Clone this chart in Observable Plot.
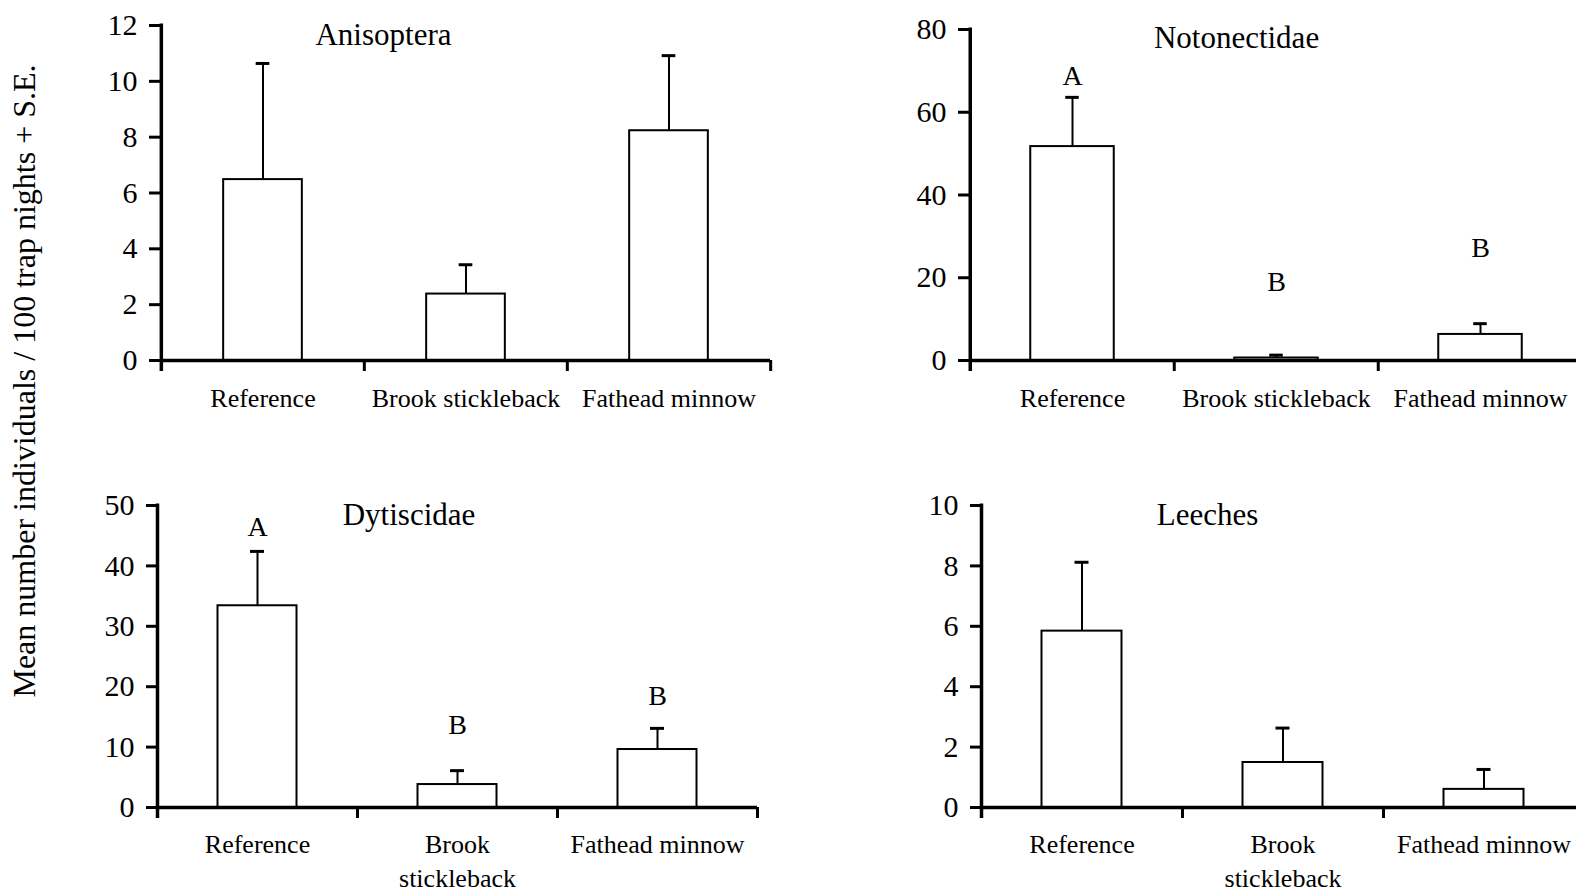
<!DOCTYPE html>
<html>
<head>
<meta charset="utf-8">
<script src="https://cdn.jsdelivr.net/npm/d3@7"></script>
<script src="https://cdn.jsdelivr.net/npm/@observablehq/plot@0.6"></script>
<style>
  html, body { margin: 0; padding: 0; background: #fff; overflow: hidden; }
  #fig { position: relative; width: 1576px; height: 890px; overflow: hidden;
         font-family: "Liberation Serif", "Times New Roman", serif; color: #000; }
  .panel { position: absolute; z-index: 1; }
  #ylab { position: absolute; left: 24px; top: 381px; white-space: nowrap; z-index: 2;
          transform: translate(-50%, -50%) rotate(-90deg); font-size: 32px; }
</style>
</head>
<body>
<div id="fig">
  <div id="ylab">Mean number individuals / 100 trap nights + S.E.</div>
</div>
<script>
// Treatment groups (x categories)
const groups = ["Reference", "Brook stickleback", "Fathead minnow"];

// Mean catch per 100 trap nights and standard errors, by taxon
const anisopteraMean = [6.48, 2.38, 8.23];
const anisopteraSE   = [4.16, 1.05, 2.69];
const notonectidaeMean = [51.7, 0.6, 6.3];
const notonectidaeSE   = [11.9, 0.7, 2.6];
const dytiscidaeMean = [33.4, 3.8, 9.6];
const dytiscidaeSE   = [9.0, 2.3, 3.5];
const leechesMean = [5.84, 1.49, 0.60];
const leechesSE   = [2.28, 1.14, 0.66];

// Significance letters and the height they sit at
const notonectidaeLetters = ["A", "B", "B"];
const notonectidaeLetterAt = [66.5, 16.7, 24.9];
const dytiscidaeLetters = ["A", "B", "B"];
const dytiscidaeLetterAt = [45.0, 12.1, 17.0];

// Y tick values
const anisopteraTicks = [0, 2, 4, 6, 8, 10, 12];
const notonectidaeTicks = [0, 20, 40, 60, 80];
const dytiscidaeTicks = [0, 10, 20, 30, 40, 50];
const leechesTicks = [0, 2, 4, 6, 8, 10];

const serif = "Liberation Serif, Times New Roman, serif";

function panel({title, means, ses, letters, letterAt, ticks, wrap, layout}) {
  const {left, top, width, height, ml, mr, mt, mb, barWidth, titleDx, titleDy, labelPad} = layout;
  const bw = (width - ml - mr) / groups.length;
  const inset = (bw - barWidth) / 2;
  const capInset = (bw - 14) / 2;
  const rows = groups.map((g, i) => ({group: g, mean: means[i], top: means[i] + ses[i]}));
  const letterRows = letters ? groups.map((g, i) => ({group: g, letter: letters[i], at: letterAt[i]})) : [];
  const yMax = ticks[ticks.length - 1];
  const label = (g) => wrap && g === "Brook stickleback" ? "Brook\nstickleback" : g;

  const svg = Plot.plot({
    width, height,
    marginLeft: ml, marginRight: mr, marginTop: mt, marginBottom: mb,
    style: {fontFamily: serif, background: "transparent", color: "black", maxWidth: "none", overflow: "visible"},
    x: {type: "band", domain: groups, padding: 0, axis: null, label: null},
    y: {domain: [0, yMax], axis: null, label: null},
    marks: [
      Plot.barY(rows, {x: "group", y1: 0, y2: "mean", fill: "white", stroke: "black",
                       strokeWidth: 2, insetLeft: inset, insetRight: inset}),
      Plot.ruleX(rows, {x: "group", y1: "mean", y2: "top", stroke: "black", strokeWidth: 2}),
      Plot.tickY(rows, {x: "group", y: "top", stroke: "black", strokeWidth: 3,
                        insetLeft: capInset, insetRight: capInset}),
      // baseline and category boundary ticks
      Plot.ruleY([0], {stroke: "black", strokeWidth: 3.5}),
      Plot.ruleX(groups.slice(1), {x: (d) => d, y1: 0, y2: 0, dx: -bw / 2, insetBottom: -11,
                                   stroke: "black", strokeWidth: 3}),
      Plot.ruleX(groups.slice(-1), {x: (d) => d, y1: 0, y2: 0, dx: bw / 2, insetBottom: -11,
                                    stroke: "black", strokeWidth: 3}),
      // y axis line
      Plot.ruleX(groups.slice(0, 1), {x: (d) => d, y1: yMax, y2: 0, dx: -bw / 2, insetTop: -1.5,
                                      insetBottom: -11, stroke: "black", strokeWidth: 3.5}),
      Plot.axisY({ticks, tickSize: 11, tickPadding: 12, strokeWidth: 3, fontSize: 30,
                  tickFormat: d3.format("d"), label: null}),
      Plot.axisX({tickSize: 0, tickPadding: labelPad, fontSize: 26, lineHeight: 1.3,
                  tickFormat: label, label: null}),
      Plot.text(letterRows, {x: "group", y: "at", text: "letter", fontSize: 28, lineAnchor: "bottom"}),
      Plot.text([title], {frameAnchor: "top-left", dx: titleDx, dy: titleDy, fontSize: 31,
                          textAnchor: "middle", lineAnchor: "bottom"})
    ]
  });
  const holder = document.createElement("div");
  holder.className = "panel";
  holder.style.left = left + "px";
  holder.style.top = top + "px";
  holder.style.width = width + "px";
  holder.style.height = height + "px";
  holder.appendChild(svg);
  document.getElementById("fig").appendChild(holder);
}

panel({title: "Anisoptera", means: anisopteraMean, ses: anisopteraSE, ticks: anisopteraTicks, wrap: false,
       layout: {left: 0, top: 0, width: 790, height: 450, ml: 160, mr: 20, mt: 25, mb: 90,
                barWidth: 79, titleDx: 223, titleDy: 19, labelPad: 23}});
panel({title: "Notonectidae", means: notonectidaeMean, ses: notonectidaeSE,
       letters: notonectidaeLetters, letterAt: notonectidaeLetterAt, ticks: notonectidaeTicks, wrap: false,
       layout: {left: 800, top: 0, width: 800, height: 450, ml: 169, mr: 17.5, mt: 29, mb: 90,
                barWidth: 84, titleDx: 267, titleDy: 18, labelPad: 23}});
panel({title: "Dytiscidae", means: dytiscidaeMean, ses: dytiscidaeSE,
       letters: dytiscidaeLetters, letterAt: dytiscidaeLetterAt, ticks: dytiscidaeTicks, wrap: true,
       layout: {left: 0, top: 450, width: 777, height: 440, ml: 157, mr: 20, mt: 55, mb: 83,
                barWidth: 79, titleDx: 251.5, titleDy: 19, labelPad: 22}});
panel({title: "Leeches", means: leechesMean, ses: leechesSE, ticks: leechesTicks, wrap: true,
       layout: {left: 800, top: 450, width: 800, height: 440, ml: 181, mr: 16, mt: 55, mb: 83,
                barWidth: 80, titleDx: 226, titleDy: 19, labelPad: 22}});
</script>
</body>
</html>
